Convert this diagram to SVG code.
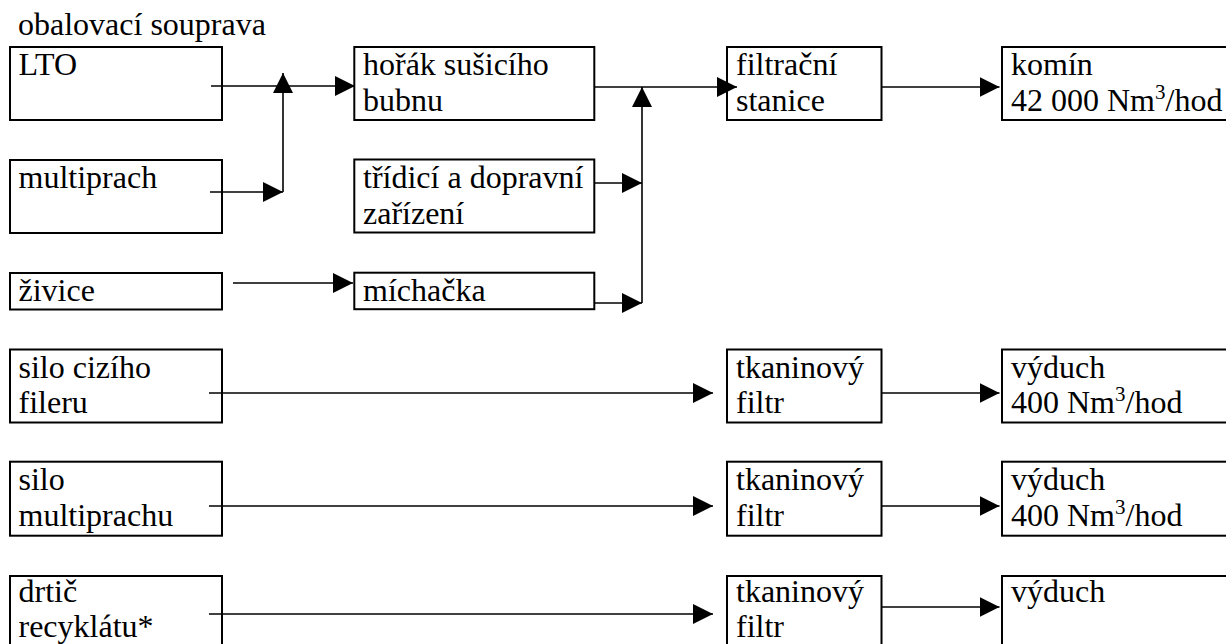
<svg xmlns="http://www.w3.org/2000/svg" width="1226" height="644" viewBox="0 0 1226 644">
<style>
  .box { fill: #ffffff; stroke: #000000; stroke-width: 2; }
  .t { font-family: "Liberation Serif", serif; font-size: 32px; fill: #000000; }
  .sup { font-size: 21px; }
  .line { fill: none; stroke: #000000; stroke-width: 1.6; }
</style>
<defs>
  <marker id="arr" viewBox="0 0 20 20" refX="20" refY="10" markerWidth="20" markerHeight="20" markerUnits="userSpaceOnUse" orient="auto">
    <path d="M0,0 L20,10 L0,20 Z" fill="#000000"/>
  </marker>
</defs>
<rect width="1226" height="644" fill="#ffffff"/>
<text class="t" x="18" y="35">obalovací souprava</text>

<g id="n-lto"><rect class="box" x="10" y="47" width="212" height="73"/><text class="t" x="18.5" y="75">LTO</text></g>
<g id="n-multiprach"><rect class="box" x="10" y="160" width="212" height="73"/><text class="t" x="18.5" y="188">multiprach</text></g>
<g id="n-zivice"><rect class="box" x="10" y="273" width="212" height="36.5"/><text class="t" x="18.5" y="301">živice</text></g>
<g id="n-silo-ciziho"><rect class="box" x="10" y="349.5" width="212" height="73"/><text class="t" x="18.5" y="378">silo cizího</text><text class="t" x="18.5" y="413">fileru</text></g>
<g id="n-silo-multiprachu"><rect class="box" x="10" y="461.7" width="212" height="74"/><text class="t" x="18.5" y="490">silo</text><text class="t" x="18.5" y="526">multiprachu</text></g>
<g id="n-drtic"><rect class="box" x="10" y="576" width="212" height="90"/><text class="t" x="18.5" y="602">drtič</text><text class="t" x="18.5" y="637">recyklátu*</text></g>

<g id="n-horak"><rect class="box" x="354.3" y="47" width="240" height="73"/><text class="t" x="363" y="75">hořák sušicího</text><text class="t" x="363" y="111">bubnu</text></g>
<g id="n-tridici"><rect class="box" x="354.3" y="159.5" width="240" height="73"/><text class="t" x="363" y="188">třídicí a dopravní</text><text class="t" x="363" y="224">zařízení</text></g>
<g id="n-michacka"><rect class="box" x="354.3" y="272.7" width="240" height="36.5"/><text class="t" x="363" y="301">míchačka</text></g>

<g id="n-filtracni"><rect class="box" x="727" y="47" width="154.5" height="73"/><text class="t" x="736" y="75">filtrační</text><text class="t" x="736" y="111">stanice</text></g>
<g id="n-tk1"><rect class="box" x="727" y="349.5" width="154.5" height="73"/><text class="t" x="736" y="378">tkaninový</text><text class="t" x="736" y="413">filtr</text></g>
<g id="n-tk2"><rect class="box" x="727" y="461.7" width="154.5" height="74"/><text class="t" x="736" y="490">tkaninový</text><text class="t" x="736" y="526">filtr</text></g>
<g id="n-tk3"><rect class="box" x="727" y="576" width="154.5" height="90"/><text class="t" x="736" y="602">tkaninový</text><text class="t" x="736" y="637">filtr</text></g>

<g id="n-komin"><rect class="box" x="1002" y="47" width="240" height="73"/><text class="t" x="1011" y="75">komín</text><text class="t" x="1011" y="111">42 000 Nm<tspan class="sup" dy="-12">3</tspan><tspan dy="12">/hod</tspan></text></g>
<g id="n-vyduch1"><rect class="box" x="1002" y="349.5" width="240" height="73"/><text class="t" x="1011" y="378">výduch</text><text class="t" x="1011" y="413">400 Nm<tspan class="sup" dy="-12">3</tspan><tspan dy="12">/hod</tspan></text></g>
<g id="n-vyduch2"><rect class="box" x="1002" y="461.7" width="240" height="74"/><text class="t" x="1011" y="490">výduch</text><text class="t" x="1011" y="526">400 Nm<tspan class="sup" dy="-12">3</tspan><tspan dy="12">/hod</tspan></text></g>
<g id="n-vyduch3"><rect class="box" x="1002" y="576" width="240" height="90"/><text class="t" x="1011" y="602">výduch</text></g>

<g id="connectors">
  <line class="line" x1="211" y1="86" x2="355" y2="86" marker-end="url(#arr)"/>
  <line class="line" x1="210" y1="192" x2="283" y2="192" marker-end="url(#arr)"/>
  <line class="line" x1="283" y1="192" x2="283" y2="73" marker-end="url(#arr)"/>
  <line class="line" x1="233" y1="283" x2="353" y2="283" marker-end="url(#arr)"/>

  <line class="line" x1="594" y1="87" x2="737" y2="87" marker-end="url(#arr)"/>
  <line class="line" x1="594" y1="183" x2="642" y2="183" marker-end="url(#arr)"/>
  <line class="line" x1="595" y1="303" x2="642" y2="303" marker-end="url(#arr)"/>
  <line class="line" x1="642" y1="303" x2="642" y2="87" marker-end="url(#arr)"/>

  <line class="line" x1="882" y1="87" x2="999.5" y2="87" marker-end="url(#arr)"/>

  <line class="line" x1="209" y1="393" x2="713" y2="393" marker-end="url(#arr)"/>
  <line class="line" x1="882" y1="393" x2="999.5" y2="393" marker-end="url(#arr)"/>
  <line class="line" x1="209" y1="506" x2="713" y2="506" marker-end="url(#arr)"/>
  <line class="line" x1="882" y1="506" x2="999.5" y2="506" marker-end="url(#arr)"/>
  <line class="line" x1="209" y1="614" x2="713" y2="614" marker-end="url(#arr)"/>
  <line class="line" x1="882" y1="607" x2="999.5" y2="607" marker-end="url(#arr)"/>
</g>
</svg>
